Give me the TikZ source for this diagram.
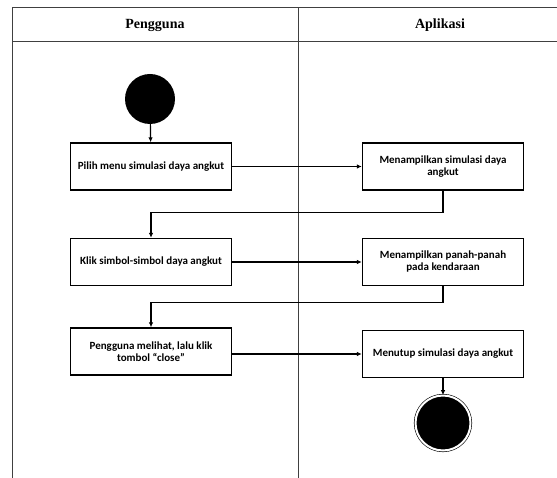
\documentclass[tikz,border=0pt]{standalone}
\usepackage{fontspec}
\setmainfont{Liberation Serif}
\newfontfamily\boxfont{Carlito}
\usetikzlibrary{positioning, arrows.meta, calc}

\begin{document}
\begin{tikzpicture}[x=1pt, y=1pt,
        lane/.style={draw=black!75, line width=1pt},
        header/.style={font=\fontsize{14}{16}\selectfont\bfseries},
        actbox/.style={rectangle, draw=black, line width=1.3pt, minimum width=161pt, minimum height=47pt, align=center, inner sep=2pt, font=\boxfont\bfseries\fontsize{11}{12}\selectfont},
        startdot/.style={circle, fill=black, minimum size=50pt, inner sep=0pt},
        enddot/.style={circle, draw=black, fill=black, line width=0.6pt, double=white, double distance=2pt, minimum size=55pt, inner sep=0pt},
        flow/.style={draw=black, line width=1.2pt, -{Latex[length=5pt, width=4.5pt]}},
    ]
    \useasboundingbox (0,0) rectangle (557,-478);

    % Swimlanes
    \draw[lane] (12,-478) -- (12,-7.5) -- (557,-7.5);
    \draw[lane] (12,-42) -- (557,-42);
    \draw[lane] (298,-7.5) -- (298,-478);
    \node[header] (pengguna) at (155,-25) {Pengguna};
    \node[header] (aplikasi) at (440,-25) {Aplikasi};

    % Pengguna
    \node[startdot] (mulai) at (150,-99) {};
    \node[actbox] (pilih) at (151,-166.5) {Pilih menu simulasi daya angkut};
    \node[actbox] (klik) at (151,-262) {Klik simbol-simbol daya angkut};
    \node[actbox] (lihat) at (151,-351.5) {Pengguna melihat, lalu klik\\tombol “close”};

    % Aplikasi
    \node[actbox] (tampil) at (443,-166.5) {Menampilkan simulasi daya\\angkut};
    \node[actbox] (panah) at (443,-262) {Menampilkan panah-panah\\pada kendaraan};
    \node[actbox] (tutup) at (443,-354) {Menutup simulasi daya angkut};
    \node[enddot] (selesai) at (443,-423) {};

    % Alur
    \draw[flow] (mulai) -- (pilih);
    \draw[flow] (pilih) -- (tampil);
    \draw[flow] (tampil.south) -- ++(0,-21.5) -| (klik.north);
    \draw[flow] (klik) -- (panah);
    \draw[flow] (panah.south) -- ++(0,-16.5) -| (lihat.north);
    \draw[flow] (lihat.east |- tutup.west) -- (tutup.west);
    \draw[flow] (tutup) -- (selesai);
\end{tikzpicture}
\end{document}
